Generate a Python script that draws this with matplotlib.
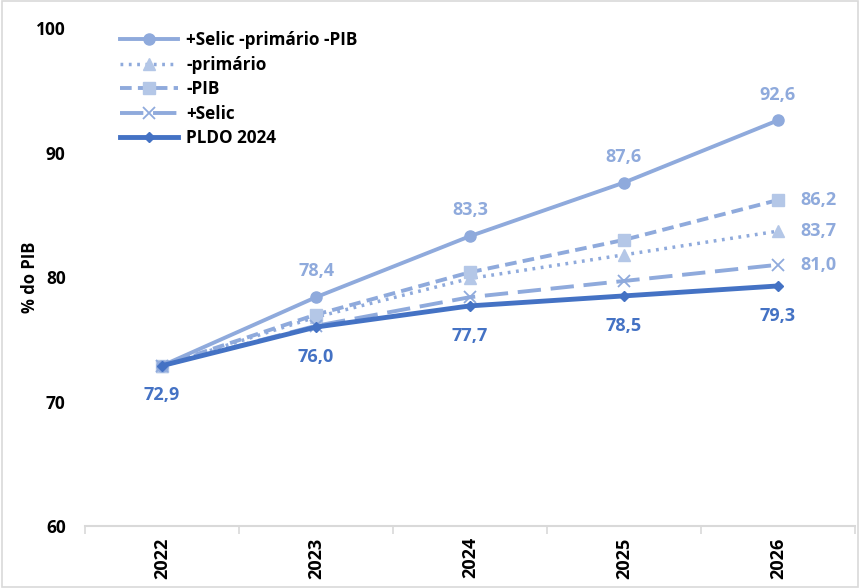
import matplotlib
matplotlib.use("Agg")
import matplotlib.pyplot as plt
from matplotlib.patches import Rectangle

plt.rcParams['font.family'] = ['Open Sans', 'DejaVu Sans']

years = ["2022", "2023", "2024", "2025", "2026"]
s_all = [72.9, 78.4, 83.3, 87.6, 92.6]
s_prim = [72.9, 76.8, 79.9, 81.8, 83.7]
s_pib = [72.9, 77.0, 80.4, 83.0, 86.2]
s_selic = [72.9, 76.1, 78.4, 79.7, 81.0]
s_pldo = [72.9, 76.0, 77.7, 78.5, 79.3]
names = ["+Selic -primário -PIB", "-primário", "-PIB", "+Selic", "PLDO 2024"]

light = "#8FAADC"
lighter = "#B4C7E7"
dark = "#4472C4"

fig = plt.figure(figsize=(8.6, 5.88), dpi=100)
ax = fig.add_axes([0.099, 0.105, 0.895, 0.847])
x = list(range(len(years)))

ax.plot(x, s_all, color=light, lw=2.8, marker='o', ms=8, mfc=light, mec=light, label=names[0], zorder=5)
ax.plot(x, s_prim, color=light, lw=2.5, ls=(0, (0.8, 1.6)), marker='^', ms=8, mfc=lighter, mec=lighter, label=names[1], zorder=4)
ax.plot(x, s_pib, color=light, lw=2.8, ls=(0, (3, 1.6)), marker='s', ms=8, mfc=lighter, mec=lighter, label=names[2], zorder=4)
ax.plot(x, s_selic, color=light, lw=2.8, ls=(0, (6, 2.5)), marker='x', ms=9, mew=1.3, mfc=light, mec=light, label=names[3], zorder=4)
ax.plot(x, s_pldo, color=dark, lw=3.5, marker='D', ms=5, mfc=dark, mec=dark, label=names[4], zorder=6)

def fmt(v):
    return f"{v:.1f}".replace('.', ',')

lab_kw = dict(fontsize=13, fontweight='bold', ha='center')
for i in range(1, 5):
    ax.annotate(fmt(s_all[i]), (x[i], s_all[i]), xytext=(0, 12), textcoords='offset points',
                va='bottom', color=light, **lab_kw)
for i in range(5):
    ax.annotate(fmt(s_pldo[i]), (x[i], s_pldo[i]), xytext=(0, -15), textcoords='offset points',
                va='top', color=dark, **lab_kw)
for s in (s_pib, s_prim, s_selic):
    ax.annotate(fmt(s[-1]), (x[-1], s[-1]), xytext=(16, 0), textcoords='offset points',
                va='center', ha='left', color=light, fontsize=13, fontweight='bold')

ax.set_xlim(-0.5, 4.5)
ax.set_ylim(60, 100)
ax.set_yticks([60, 70, 80, 90, 100])
ax.set_yticklabels(["60", "70", "80", "90", "100"], fontsize=12.5, fontweight='bold')
ax.tick_params(axis='y', length=0, pad=14)
ax.set_xticks([i + 0.5 for i in range(-1, 5)], minor=False)
ax.set_xticklabels([""] * 6)
ax.set_xticks(x, minor=True)
ax.set_xticklabels(years, minor=True, rotation=90, fontsize=13, fontweight='bold')
ax.tick_params(axis='x', which='minor', length=0, pad=8)
ax.tick_params(axis='x', which='major', length=6, color='#D9D9D9', width=1.2)
for sp in ('top', 'right', 'left'):
    ax.spines[sp].set_visible(False)
ax.spines['bottom'].set_color('#D9D9D9')
ax.spines['bottom'].set_linewidth(1.5)
ax.set_ylabel("% do PIB", fontsize=12, fontweight='bold')
ax.yaxis.set_label_coords(-0.06, 0.5)

leg = ax.legend(loc='upper left', bbox_to_anchor=(0.025, 1.025), frameon=False,
                prop={'size': 12.3, 'weight': 'bold'}, handlelength=3.4, labelspacing=0.38,
                handletextpad=0.5)

fig.patches.append(Rectangle((0.002, 0.002), 0.996, 0.996, transform=fig.transFigure,
                             fill=False, edgecolor='#D9D9D9', lw=1.2))

fig.savefig("out.png", dpi=100)
